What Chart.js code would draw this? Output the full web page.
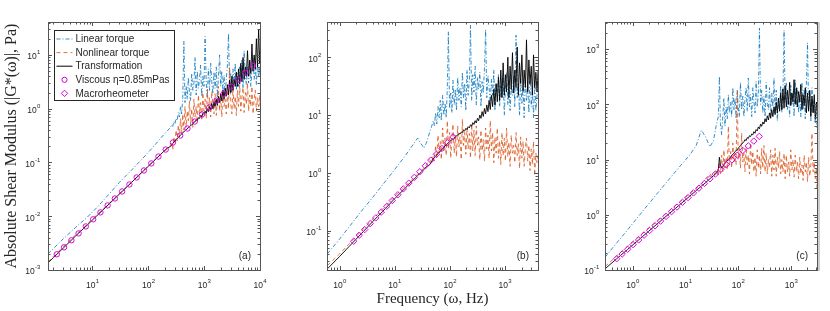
<!DOCTYPE html>
<html>
<head>
<meta charset="utf-8">
<script src="https://cdn.jsdelivr.net/npm/chart.js@4.4.0/dist/chart.umd.min.js"></script>
<style>
  body { margin: 0; background: #fff; }
  #wrap { position: relative; width: 830px; height: 311px; }
  #wrap canvas { position: absolute; left: 0; top: 0; }
</style>
</head>
<body>
<div id="wrap">
  <canvas id="panelA" width="830" height="311"></canvas>
  <canvas id="panelB" width="830" height="311"></canvas>
  <canvas id="panelC" width="830" height="311"></canvas>
</div>
<script>
const LABELS = ['Linear torque', 'Nonlinear torque', 'Transformation', 'Viscous \u03b7=0.85mPas', 'Macrorheometer'];

// panel (a)
const freqA = [1.6, 2, 3, 5, 8, 12, 20, 30, 50, 80, 120, 170, 220,
  250, 262, 274, 287, 300, 314, 329, 345, 361, 378,
  396, 414, 434, 454, 476, 498, 521, 546, 572, 598,
  627, 656, 687, 719, 753, 789, 826, 864, 905, 948,
  992, 1040, 1090, 1140, 1190, 1250, 1310, 1370, 1430, 1500,
  1570, 1650, 1720, 1800, 1890, 1980, 2070, 2170, 2270, 2380,
  2490, 2610, 2730, 2860, 3000, 3140, 3280, 3440, 3600, 3770,
  3950, 4130, 4330, 4530, 4740, 4970, 5200, 5450, 5700, 5970,
  6250, 6540, 6850, 7170, 7510, 7860, 8230, 8620, 9020, 9450,
  9890, 10000];
const linearA = [0.002, 0.0025, 0.0038, 0.0062, 0.0095, 0.0145, 0.026, 0.042, 0.072, 0.12, 0.19, 0.29, 0.39,
  0.45, 0.5, 0.47, 0.58, 0.52, 0.66, 0.6, 0.85, 0.7, 1.1,
  0.8, 1.6, 18, 1.3, 2.6, 1.5, 3.8, 2.0, 1.4, 4.5,
  2.2, 3.0, 9, 1.8, 5.0, 2.4, 3.5, 6.5, 1.7, 4.0,
  2.6, 22, 3.0, 1.6, 5.5, 2.2, 7, 3.2, 1.9, 4.8,
  2.4, 6, 1.6, 3.8, 10, 2.6, 5, 2.0, 4.2, 1.8,
  3.5, 6.5, 25, 2.5, 4.5, 2.0, 5.5, 3.0, 7, 2.2,
  4.5, 2.6, 6, 3.2, 8, 2.4, 12, 4.0, 2.8, 6,
  3.0, 7.5, 2.6, 5, 9, 3.5, 6, 2.8, 8, 4.0,
  6, 4];
const nonlinearA = [0.0014, 0.0018, 0.0027, 0.0045, 0.0071, 0.0106, 0.0175, 0.026, 0.043, 0.069, 0.103, 0.145, 0.185,
  0.2, 0.24, 0.17, 0.3, 0.22, 0.4, 0.25, 0.5, 0.3, 0.65,
  0.35, 0.8, 0.4, 1.1, 0.45, 0.9, 0.6, 1.4, 0.5, 1.0,
  0.45, 1.5, 0.7, 1.1, 0.55, 1.8, 0.8, 1.3, 0.6, 2.0,
  0.9, 1.5, 0.65, 2.3, 1.0, 1.6, 0.7, 2.1, 1.2, 0.8,
  1.9, 0.75, 1.4, 2.6, 0.9, 1.7, 0.7, 2.2, 1.1, 1.5,
  0.8, 2.0, 1.0, 6, 1.2, 0.8, 2.4, 1.0, 1.7, 0.75,
  2.2, 1.1, 2.8, 0.9, 1.6, 2.5, 0.85, 2.0, 1.2, 3.0,
  0.9, 1.8, 1.1, 2.6, 0.8, 1.5, 2.2, 0.9, 1.6, 1.1,
  1.8, 1.0];
const transformA = [0.00136, 0.0017, 0.00255, 0.0043, 0.0068, 0.0102, 0.017, 0.0255, 0.0425, 0.068, 0.102, 0.145, 0.185,
  0.2, 0.21, 0.225, 0.24, 0.25, 0.265, 0.28, 0.29, 0.31, 0.32,
  0.34, 0.36, 0.37, 0.39, 0.41, 0.42, 0.45, 0.46, 0.49, 0.5,
  0.52, 0.56, 0.57, 0.62, 0.6, 0.68, 0.66, 0.75, 0.7, 0.82,
  0.78, 0.9, 0.82, 1.0, 0.88, 1.1, 0.95, 1.25, 1.0, 1.35,
  1.1, 1.5, 1.15, 1.7, 1.3, 1.9, 1.4, 2.2, 1.5, 2.4,
  1.7, 2.8, 1.8, 3.4, 2.0, 4.0, 2.2, 3.5, 2.6, 4.8,
  2.6, 5.5, 2.9, 7, 3.2, 9, 3.5, 6, 4.0, 12,
  4.0, 8, 4.5, 16, 5, 10, 5.5, 20, 6, 30,
  7, 12];
const viscFreqA = [2.3, 3.1, 4.2, 5.65, 7.6, 10.3, 13.9, 18.7, 25.2, 34, 45.9, 61.9, 83.5, 113,
  152, 205, 276, 373, 503, 678, 915, 1230, 1660, 2240, 3030, 4080, 5510, 7430];
const viscousA = [0.00196, 0.00264, 0.00357, 0.0048, 0.00646, 0.00876, 0.0118, 0.0159, 0.0214, 0.0289, 0.039, 0.0526, 0.071, 0.096,
  0.129, 0.174, 0.235, 0.317, 0.428, 0.576, 0.778, 1.05, 1.41, 1.9, 2.58, 3.47, 4.68, 6.32];

// panel (b)
const freqB = [0.6, 1, 1.5, 2.5, 4, 6, 10, 15, 20, 26, 30, 34, 38, 43, 47,
  50, 52.5, 55, 58, 61, 64, 67, 70, 74, 78,
  82, 86, 90, 94, 99, 104, 109, 114, 120, 126,
  132, 139, 146, 153, 161, 169, 177, 186, 195, 205,
  215, 226, 237, 249, 261, 274, 288, 302, 317, 333,
  350, 367, 385, 405, 425, 446, 468, 492, 516, 542,
  569, 598, 628, 659, 692, 727, 763, 801, 841, 883,
  927, 974, 1020, 1070, 1130, 1180, 1240, 1300, 1370, 1440,
  1510, 1590, 1670, 1750, 1840, 1930, 2030, 2130, 2230, 2350,
  2460, 2590, 2720, 2850, 3000, 3150, 3300, 3470, 3640, 3820,
  4000];
const linearB = [0.04, 0.072, 0.118, 0.22, 0.38, 0.62, 1.15, 1.9, 2.8, 4.0, 3.2, 2.7, 3.4, 5, 6.5,
  8, 6.5, 11, 7, 14, 9, 18, 8, 22, 10,
  16, 9, 30, 275, 13, 24, 11, 40, 15, 28,
  12, 45, 18, 30, 14, 55, 20, 35, 12, 60,
  22, 40, 360, 18, 50, 25, 70, 15, 45, 28,
  55, 14, 38, 24, 65, 300, 20, 48, 30, 16,
  42, 22, 60, 12, 35, 25, 50, 14, 32, 20,
  45, 10, 28, 55, 15, 38, 12, 30, 22, 48,
  14, 240, 20, 36, 10, 42, 16, 30, 9, 45,
  18, 32, 11, 50, 14, 26, 9, 38, 12, 22,
  30];
const nonlinearB = [0.025, 0.04, 0.06, 0.1, 0.16, 0.235, 0.39, 0.57, 0.75, 0.95, 1.1, 1.2, 1.4, 1.7, 1.5,
  2.0, 1.6, 3.0, 1.8, 4.5, 2.2, 3.5, 1.7, 6, 2.4,
  4.0, 2.0, 8, 2.6, 5, 1.8, 3.8, 7, 2.2, 4.5,
  1.9, 6.5, 2.8, 4.2, 1.7, 8.5, 3.0, 5, 2.1, 6,
  2.6, 4.8, 1.8, 7, 2.4, 5.5, 2.0, 6.5, 3.0, 4.2,
  1.7, 5.5, 2.4, 3.8, 1.6, 6, 2.6, 4.5, 1.8, 8,
  2.4, 5, 1.5, 4.2, 2.2, 6, 1.8, 3.6, 1.4, 5,
  2.0, 4.0, 1.6, 6, 1.9, 3.4, 1.3, 4.5, 2.2, 3.0,
  1.5, 5, 2.0, 3.2, 1.2, 4.2, 1.8, 3.5, 1.3, 2.8,
  4.0, 1.6, 3.0, 1.1, 2.6, 1.4, 3.5, 0.9, 2.2, 1.5,
  2.0];
const transformB = [0.022, 0.036, 0.054, 0.09, 0.145, 0.215, 0.36, 0.53, 0.7, 0.9, 1.02, 1.15, 1.3, 1.38, 1.6,
  1.75, 1.85, 1.95, 2.05, 2.15, 2.3, 2.35, 2.5, 2.6, 2.8,
  2.9, 3.05, 3.2, 3.3, 3.5, 3.6, 3.8, 3.9, 4.1, 4.2,
  4.4, 4.5, 4.8, 4.7, 5.1, 5.0, 5.5, 5.3, 5.9, 5.6,
  6.3, 6.0, 6.8, 6.4, 7.4, 6.9, 8.0, 7.3, 8.8, 8.0,
  10, 8.8, 11.5, 9.5, 13, 10.5, 15, 11.5, 18, 12.5,
  22, 14, 28, 15, 35, 17, 45, 18, 60, 20,
  80, 22, 50, 25, 100, 20, 70, 28, 120, 24,
  60, 30, 150, 22, 80, 35, 110, 26, 60, 30,
  200, 25, 90, 35, 70, 22, 110, 30, 55, 25,
  60];
const macroFreqB = [1.8, 2.27, 2.85, 3.59, 4.52, 5.69, 7.16, 9.02, 11.4, 14.3, 18.0, 22.7, 28.5, 35.9, 45.2, 56.9, 71.6, 90.2, 114];
const macroB = [0.066, 0.084, 0.105, 0.133, 0.167, 0.21, 0.265, 0.334, 0.42, 0.53, 0.666, 0.84, 1.05, 1.33, 1.67, 2.1, 2.65, 3.34, 4.2];

// panel (c)
const freqC = [0.3, 0.5, 0.8, 1.2, 2, 3, 5, 8, 12, 16, 20, 24, 29, 34, 38,
  42, 44, 46, 48.5, 51, 53.5, 56, 59, 62, 65,
  68, 72, 75, 79, 83, 87, 91, 96, 100, 105,
  110, 116, 122, 128, 134, 141, 148, 155, 163, 171,
  180, 189, 198, 208, 218, 229, 240, 252, 265, 278,
  292, 307, 322, 338, 355, 373, 391, 411, 431, 453,
  475, 499, 524, 550, 578, 607, 637, 669, 702, 737,
  774, 813, 854, 896, 941, 988, 1040, 1090, 1140, 1200,
  1260, 1320, 1390, 1460, 1530, 1610, 1690, 1770, 1860, 1950,
  2050, 2150, 2260, 2370, 2490, 2620, 2750, 2880, 3030, 3100];
const linearC = [0.17, 0.31, 0.53, 0.86, 1.56, 2.5, 4.5, 7.7, 12, 18, 34, 26, 17, 22, 40,
  60, 320, 45, 28, 60, 130, 40, 90, 55, 150,
  70, 110, 60, 200, 80, 130, 55, 180, 90, 60,
  250, 80, 140, 60, 120, 200, 75, 300, 90, 150,
  60, 200, 110, 70, 260, 90, 150, 2400, 100, 180,
  70, 140, 60, 250, 100, 80, 200, 60, 160, 90,
  300, 70, 180, 50, 130, 90, 220, 70, 160, 2200,
  110, 250, 80, 140, 60, 220, 100, 170, 60, 280,
  90, 200, 70, 150, 60, 250, 80, 180, 55, 230,
  1300, 80, 160, 50, 200, 70, 120, 45, 90, 35];
const nonlinearC = [0.115, 0.18, 0.27, 0.38, 0.58, 0.8, 1.2, 1.75, 2.4, 3.0, 3.6, 4.5, 5.5, 4.8, 6.5,
  5, 9, 5.5, 12, 6, 15, 7, 11, 6.5, 40,
  8, 14, 7, 20, 9, 13, 8, 180, 10, 16,
  7, 30, 9, 13, 6, 17, 8, 12, 5.5, 20,
  8, 14, 6, 11, 5, 15, 7, 12, 5.5, 16,
  7, 18, 6, 13, 5.5, 10, 7, 15, 5, 12,
  6.5, 16, 5, 11, 7, 14, 5.5, 10, 6, 13,
  4.5, 12, 6, 9, 5, 15, 6.5, 10, 4.8, 12,
  6, 9, 4.5, 11, 5.5, 8, 4.2, 12, 6, 9,
  4, 11, 5, 8, 30, 6, 9, 4.5, 7, 3];
const transformC = [0.105, 0.16, 0.235, 0.328, 0.5, 0.7, 1.06, 1.55, 2.17, 2.74, 3.3, 3.8, 4.5, 5.1, 5.6,
  6.5, 11, 8, 7, 7.5, 8, 8.5, 9, 9.5, 10,
  10.5, 11, 12, 12.5, 13, 14, 14.5, 15, 16, 17,
  18, 19, 20, 21, 23, 22, 25, 24, 27, 26,
  29, 28, 32, 30, 35, 33, 39, 36, 44, 40,
  48, 44, 55, 48, 62, 52, 70, 56, 80, 60,
  90, 65, 110, 70, 130, 75, 160, 80, 190, 85,
  220, 90, 180, 100, 250, 95, 160, 110, 280, 100,
  200, 90, 170, 110, 230, 80, 150, 95, 200, 70,
  160, 75, 180, 60, 140, 70, 150, 55, 110, 85];
const macroFreqC = [0.5, 0.635, 0.806, 1.02, 1.3, 1.65, 2.1, 2.66, 3.38, 4.3, 5.46, 6.93, 8.8, 11.2,
  14.2, 18.0, 22.9, 29.1, 36.9, 46.9, 59.5, 75.6, 96, 122, 155, 197, 250];
const macroC = [0.16, 0.195, 0.237, 0.288, 0.35, 0.426, 0.519, 0.631, 0.768, 0.935, 1.14, 1.38, 1.68, 2.05,
  2.49, 3.03, 3.69, 4.49, 5.46, 6.65, 8.09, 9.84, 12.0, 14.6, 17.7, 21.6, 26.3];

// decade exponents shown as tick labels
const xExpA = [1, 2, 3, 4], yExpA = [-3, -2, -1, 0, 1];
const xExpB = [0, 1, 2, 3], yExpB = [-1, 0, 1, 2];
const xExpC = [0, 1, 2, 3], yExpC = [-1, 0, 1, 2, 3];

const BLUE = 'rgba(0,114,189,0.8)';
const ORANGE = 'rgba(217,83,25,0.8)';
const MAGENTA = '#e000e0';
const INK = '#262626';

const pts = (xs, ys) => xs.map((x, i) => ({ x: x, y: ys[i] }));

function minorValues(min, max) {
    const out = [];
    for (let e = Math.floor(Math.log10(min)) - 1; e <= Math.ceil(Math.log10(max)); e++) {
        for (let k = 1; k <= 9; k++) {
            const v = k * Math.pow(10, e);
            if (v >= min * 0.9999 && v <= max * 1.0001) out.push({ v: v, major: k === 1 });
        }
    }
    return out;
}

function drawPow(ctx, exp, x, y, align) {
    const base = '10', sup = String(exp);
    ctx.font = '8.5px "Liberation Sans", Arial, sans-serif';
    const bw = ctx.measureText(base).width;
    ctx.font = '6px "Liberation Sans", Arial, sans-serif';
    const ew = ctx.measureText(sup).width;
    const x0 = align === 'right' ? x - bw - ew : x - (bw + ew) / 2;
    ctx.textAlign = 'left';
    ctx.textBaseline = 'alphabetic';
    ctx.font = '8.5px "Liberation Sans", Arial, sans-serif';
    ctx.fillText(base, x0, y);
    ctx.font = '6px "Liberation Sans", Arial, sans-serif';
    ctx.fillText(sup, x0 + bw + 0.3, y - 5);
}

// box, inward ticks, decade labels, panel letter and legend (MATLAB look)
const axesFrame = {
    id: 'axesFrame',
    afterDraw(chart, args, opts) {
        const { ctx, chartArea: a } = chart;
        const sx = chart.scales.x, sy = chart.scales.y;
        ctx.save();
        if (opts.edge) {
            ctx.fillStyle = '#cfcfcf';
            ctx.fillRect(Math.round(a.right) + 1, Math.round(a.top), 2, Math.round(a.bottom - a.top) + 1);
        }
        ctx.strokeStyle = '#555';
        ctx.lineWidth = 1;
        ctx.strokeRect(Math.round(a.left) + 0.5, Math.round(a.top) + 0.5,
            Math.round(a.right - a.left), Math.round(a.bottom - a.top));
        ctx.beginPath();
        minorValues(sx.min, sx.max).forEach(t => {
            const px = Math.round(sx.getPixelForValue(t.v)) + 0.5;
            const len = t.major ? 4 : 2.5;
            ctx.moveTo(px, a.bottom); ctx.lineTo(px, a.bottom - len);
            ctx.moveTo(px, a.top); ctx.lineTo(px, a.top + len);
        });
        minorValues(sy.min, sy.max).forEach(t => {
            const py = Math.round(sy.getPixelForValue(t.v)) + 0.5;
            const len = t.major ? 4 : 2.5;
            ctx.moveTo(a.left, py); ctx.lineTo(a.left + len, py);
            ctx.moveTo(a.right, py); ctx.lineTo(a.right - len, py);
        });
        ctx.stroke();

        ctx.fillStyle = INK;
        sx.ticks.forEach(t => {
            drawPow(ctx, Math.round(Math.log10(t.value)), sx.getPixelForValue(t.value), a.bottom + 17.5, 'center');
        });
        sy.ticks.forEach(t => {
            drawPow(ctx, Math.round(Math.log10(t.value)), a.left - opts.labelGap, sy.getPixelForValue(t.value) + 4.3, 'right');
        });

        ctx.font = '10px "Liberation Sans", Arial, sans-serif';
        ctx.textAlign = 'right';
        ctx.textBaseline = 'middle';
        ctx.fillText(opts.letter, a.right - 9, a.bottom - 14);

        if (opts.legend) {
            const bx = Math.round(a.left) + 6.5, by = Math.round(a.top) + 8.5, bw = 120, bh = 70;
            ctx.fillStyle = '#fff';
            ctx.fillRect(bx, by, bw, bh);
            ctx.strokeStyle = INK;
            ctx.strokeRect(bx, by, bw, bh);
            chart.data.datasets.forEach((ds, i) => {
                const cy = by + 8.5 + i * 13.6;
                ctx.save();
                if (ds.showLine === false) {
                    ctx.strokeStyle = ds.pointBorderColor;
                    ctx.lineWidth = 1;
                    ctx.beginPath();
                    if (ds.pointStyle === 'circle') {
                        ctx.arc(bx + 10, cy, 2.6, 0, Math.PI * 2);
                    } else {
                        ctx.moveTo(bx + 10, cy - 3.2); ctx.lineTo(bx + 13.2, cy);
                        ctx.lineTo(bx + 10, cy + 3.2); ctx.lineTo(bx + 6.8, cy); ctx.closePath();
                    }
                    ctx.stroke();
                } else {
                    ctx.strokeStyle = ds.borderColor;
                    ctx.lineWidth = 1;
                    ctx.setLineDash(ds.borderDash || []);
                    ctx.beginPath();
                    ctx.moveTo(bx + 2, cy); ctx.lineTo(bx + 18, cy);
                    ctx.stroke();
                }
                ctx.restore();
                ctx.fillStyle = INK;
                ctx.font = '10px "Liberation Sans", Arial, sans-serif';
                ctx.textAlign = 'left';
                ctx.textBaseline = 'middle';
                ctx.fillText(ds.label, bx + 21, cy + 0.5);
            });
        }
        ctx.restore();
    }
};

function panel(id, p) {
    const datasets = [
        { label: LABELS[0], data: pts(p.freq, p.lin), borderColor: BLUE, borderWidth: 1, borderDash: [4, 2, 1, 2], order: 3 },
        { label: LABELS[1], data: pts(p.freq, p.non), borderColor: ORANGE, borderWidth: 1, borderDash: [4, 3], order: 2 },
        { label: LABELS[2], data: pts(p.freq, p.tra), borderColor: '#000', borderWidth: 0.9, order: 1 },
        { label: LABELS[3], data: pts(p.viscF, p.visc), showLine: false, pointStyle: 'circle', pointRadius: 2.7,
          pointBorderColor: MAGENTA, pointBackgroundColor: 'rgba(0,0,0,0)', pointBorderWidth: 1, order: 0 },
        { label: LABELS[4], data: pts(p.macroF, p.macro), showLine: false, pointStyle: 'rectRot', pointRadius: 3.2,
          pointBorderColor: MAGENTA, pointBackgroundColor: 'rgba(0,0,0,0)', pointBorderWidth: 1, order: 0 }
    ];
    datasets.forEach(d => { if (d.showLine !== false) { d.pointRadius = 0; d.tension = 0; d.fill = false; } });

    const serifX = { family: '"Liberation Serif", "Times New Roman", serif', size: 15 };
    const serifY = { family: '"Liberation Serif", "Times New Roman", serif', size: 16 };
    new Chart(document.getElementById(id), {
        type: 'line',
        data: { datasets: datasets },
        plugins: [axesFrame],
        options: {
            responsive: false,
            animation: false,
            events: [],
            layout: { padding: { left: p.area[0] - p.yw, right: 830 - p.area[1], top: 22, bottom: 0 } },
            scales: {
                x: {
                    type: 'logarithmic', min: p.xr[0], max: p.xr[1], bounds: 'data',
                    afterBuildTicks: s => { s.ticks = p.xExp.map(e => ({ value: Math.pow(10, e) })); },
                    afterFit: s => { s.height = 41; },
                    grid: { display: false }, border: { display: false },
                    ticks: { display: false },
                    title: { display: !!p.xTitle, text: p.xTitle || '', font: serifX, color: INK, padding: { top: 0, bottom: 3 } }
                },
                y: {
                    type: 'logarithmic', min: p.yr[0], max: p.yr[1], bounds: 'data',
                    afterBuildTicks: s => { s.ticks = p.yExp.map(e => ({ value: Math.pow(10, e) })); },
                    afterFit: s => { s.width = p.yw; },
                    grid: { display: false }, border: { display: false },
                    ticks: { display: false },
                    title: { display: !!p.yTitle, text: p.yTitle || '', font: serifY, color: INK, padding: { top: 2, bottom: 0 } }
                }
            },
            plugins: {
                legend: { display: false },
                tooltip: { enabled: false },
                axesFrame: { letter: p.letter, legend: !!p.legend, labelGap: p.gap, edge: !!p.edge }
            }
        }
    });
}

panel('panelA', {
    freq: freqA, lin: linearA, non: nonlinearA, tra: transformA,
    viscF: viscFreqA, visc: viscousA, macroF: [], macro: [],
    xr: [1.6, 1e4], yr: [1e-3, 41], xExp: xExpA, yExp: yExpA,
    area: [48, 260], yw: 48, gap: 8, letter: '(a)', legend: true,
    yTitle: 'Absolute Shear Modulus (|G*(\u03c9)|, Pa)'
});
panel('panelB', {
    freq: freqB, lin: linearB, non: nonlinearB, tra: transformB,
    viscF: [], visc: [], macroF: macroFreqB, macro: macroB,
    xr: [0.59, 3980], yr: [0.021, 407], xExp: xExpB, yExp: yExpB,
    area: [327, 538], yw: 40, gap: 6, letter: '(b)',
    xTitle: 'Frequency (\u03c9, Hz)'
});
panel('panelC', {
    freq: freqC, lin: linearC, non: nonlinearC, tra: transformC,
    viscF: [], visc: [], macroF: macroFreqC, macro: macroC,
    xr: [0.3, 3100], yr: [0.1, 3100], xExp: xExpC, yExp: yExpC,
    area: [605, 817], yw: 40, gap: 6, letter: '(c)', edge: true
});
</script>
</body>
</html>
